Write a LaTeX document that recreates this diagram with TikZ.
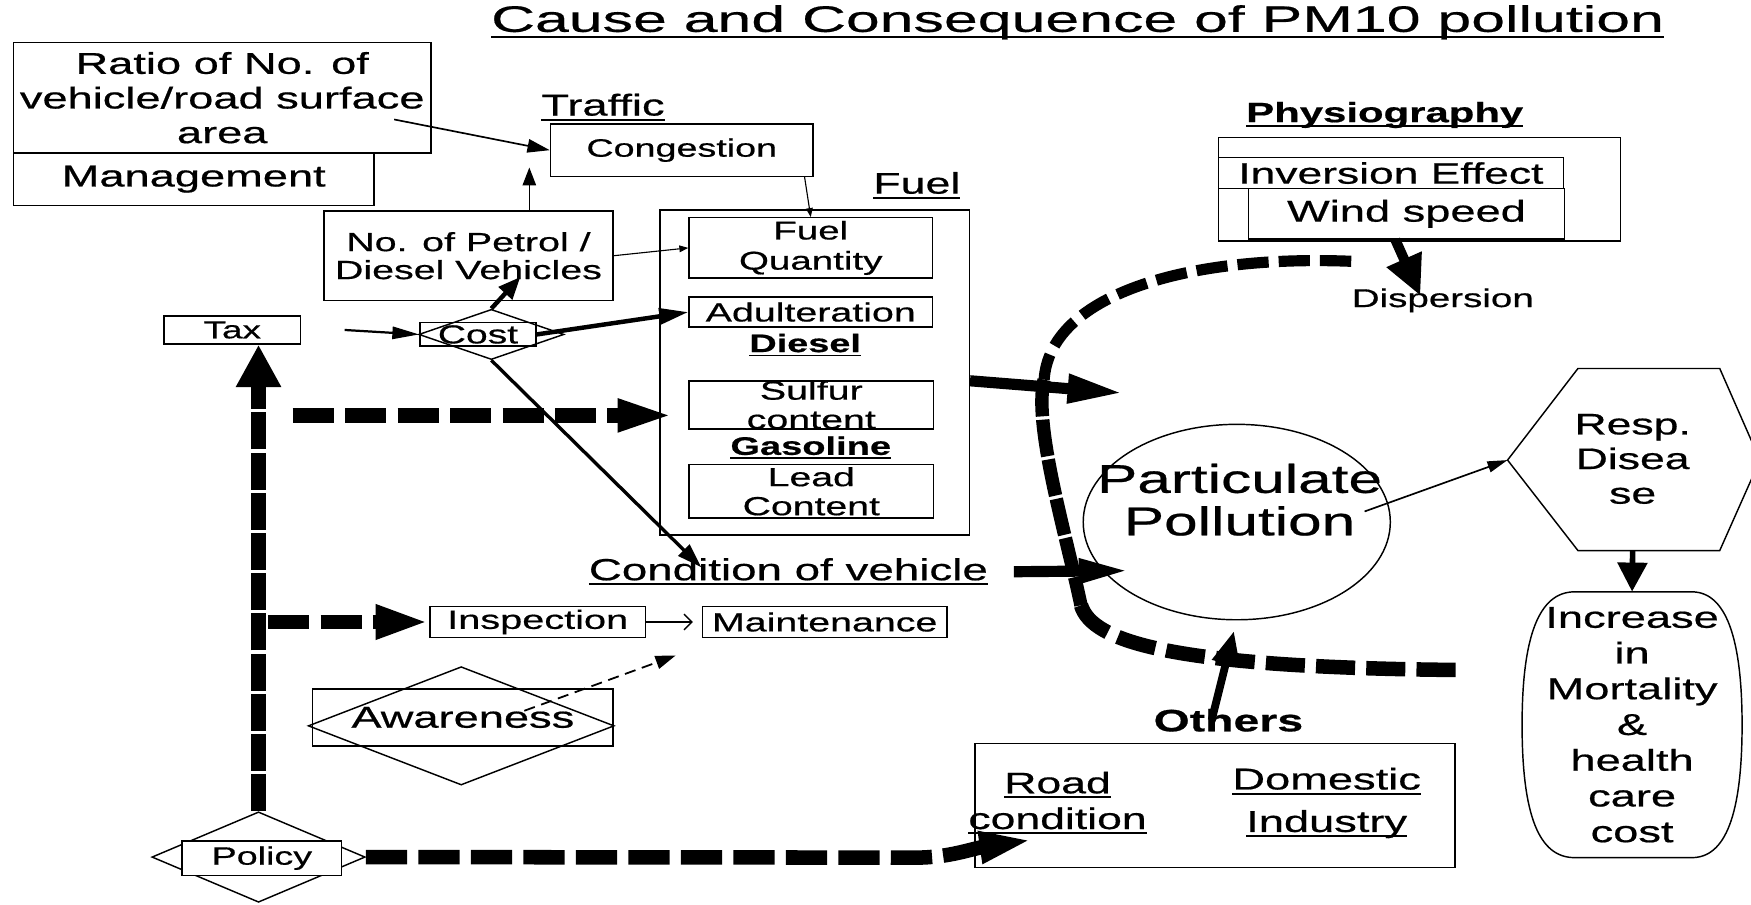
\documentclass[tikz,border=0pt]{standalone}
\usepackage{fontspec}
\setmainfont[FakeStretch=1.5,FakeBold=0.6]{Liberation Sans}
\newfontfamily\titlefont[FakeStretch=1.65,FakeBold=0.5]{Liberation Sans}
\usetikzlibrary{arrows.meta,shapes.geometric}
\newcommand\fs[2]{\fontsize{#1}{#2}\selectfont}
\newcommand\undl[1]{\leavevmode\setbox0\hbox{#1}\rlap{\copy0}\rule[-0.17em]{\wd0}{0.065em}}

\begin{document}
\begin{tikzpicture}[x=1pt,y=1pt,inner sep=0pt]
    \tikzset{box/.style={draw,line width=1.3pt,align=center,inner sep=0pt}}
    \tikzset{lbl/.style={align=center,inner sep=0pt}}
    \tikzset{dia/.style={draw,diamond,line width=1.3pt,inner sep=0pt}}
    \tikzset{bigdash/.style={line width=13pt,dash pattern=on 37pt off 10pt}}
    \tikzset{bar/.style={line width=13pt,dash pattern=on 33pt off 3pt}}

    \useasboundingbox (0,0) rectangle (1568,810);

    \node [lbl,font=\titlefont\fs{33}{38}] (title) at (965,790) {\undl{Cause and Consequence of PM10 pollution}};

    \node [box,minimum width=374pt,minimum height=99pt,font=\fs{27}{31}] (ratio) at (199,722.5) {Ratio of No. of\\vehicle/road surface\\area};
    \node [box,minimum width=323pt,minimum height=47pt,font=\fs{27}{31}] (mgmt) at (173.5,649.5) {Management};
    \node [lbl,font=\fs{27}{31}] (traffic) at (540,714) {\undl{Traffic}};
    \node [box,minimum width=235pt,minimum height=47pt,font=\fs{22.5}{25}] (cong) at (610.5,675.5) {Congestion};
    \node [box,minimum width=259pt,minimum height=80pt,font=\fs{23.5}{25}] (petrol) at (419.5,581) {No. of Petrol /\\Diesel Vehicles};

    \node [lbl,font=\fs{26.7}{30}] (fuel) at (821,644) {\undl{Fuel}};
    \node [box,minimum width=277pt,minimum height=291pt] (fuelbox) at (729.5,476.5) {};
    \node [box,minimum width=218pt,minimum height=54pt,font=\fs{23}{27}] (fqty) at (726,588) {Fuel\\Quantity};
    \node [box,minimum width=218pt,minimum height=27pt,font=\fs{23.5}{27}] (adult) at (726,530.5) {Adulteration};
    \node [lbl,font=\bfseries\fs{22.6}{26}] (diesel) at (721,501) {\undl{Diesel}};
    \node [box,minimum width=219pt,minimum height=43pt,inner ysep=-3pt,font=\fs{23.5}{26}] (sulfur) at (726.5,447.5) {Sulfur\\content};
    \node [lbl,font=\bfseries\fs{22.7}{26}] (gasoline) at (726,409) {\undl{Gasoline}};
    \node [box,minimum width=219pt,minimum height=48pt,inner ysep=-3pt,font=\fs{23.4}{26}] (lead) at (726.5,370) {Lead\\Content};

    \node [box,minimum width=122pt,minimum height=25pt,font=\fs{22}{24}] (tax) at (208,514.5) {Tax};
    \node [dia,minimum width=130pt,minimum height=45pt] (costd) at (440,510.5) {};
    \node [box,minimum width=104pt,minimum height=21pt,font=\fs{23.3}{26}] (cost) at (428,510.5) {Cost};

    \node [box,minimum width=193pt,minimum height=28pt,font=\fs{23.7}{27}] (insp) at (481.5,253) {Inspection};
    \node [box,minimum width=219pt,minimum height=28pt,font=\fs{23.5}{27}] (maint) at (738.5,253) {Maintenance};
    \node [lbl,font=\fs{27.3}{31}] (cond) at (706,298) {\undl{Condition of vehicle}};

    \node [dia,minimum width=274pt,minimum height=106pt] (awared) at (413,160) {};
    \node [box,minimum width=269pt,minimum height=51pt,font=\fs{27}{31}] (aware) at (414.5,167.5) {Awareness};

    \node [dia,minimum width=191pt,minimum height=81pt] (policyd) at (231.5,42.5) {};
    \node [box,fill=white,minimum width=143pt,minimum height=31pt,font=\fs{22.5}{26}] (policy) at (234.5,41.5) {Policy};

    \node [draw,ellipse,line width=1.3pt,minimum width=275pt,minimum height=175pt,
        label={[lbl,font=\fs{36}{38},xshift=2.5pt,yshift=20pt]center:Particulate\\Pollution}] (partic) at (1107.5,342.5) {};

    \draw [line width=1.3pt] (1413,480) -- (1540,480) -- (1576,398) -- (1540,317) -- (1413,317) -- (1350,398) -- cycle;
    \coordinate (hexw) at (1350,398);
    \coordinate (hexs) at (1462,317);
    \node [lbl,font=\fs{26.6}{31}] (resp) at (1462,399) {Resp.\\Disea\\se};

    \node [lbl,minimum width=197pt,minimum height=238pt,font=\fs{27}{32}] (incr) at (1461.5,161) {Increase\\in\\Mortality\\\&\\health\\care\\cost};
    \draw [line width=1.3pt] (1410,280) -- (1515,280) .. controls (1545,280) and (1560,240) .. (1560,161)
        .. controls (1560,80) and (1545,42) .. (1515,42) -- (1410,42)
        .. controls (1378,42) and (1363,80) .. (1363,161) .. controls (1363,240) and (1378,280) .. (1410,280);

    \node [lbl,font=\bfseries\fs{27.7}{31}] (others) at (1100,165) {Others};
    \node [box,minimum width=430pt,minimum height=111pt] (otherbox) at (1088,88.5) {};
    \node [lbl,font=\fs{26.6}{32}] (road) at (947,91) {\undl{Road}\\\undl{condition}};
    \node [lbl,font=\fs{27}{38}] (domestic) at (1188,91) {\undl{Domestic}\\\undl{Industry}};

    \node [lbl,font=\bfseries\fs{25}{30}] (physio) at (1240,707) {\undl{Physiography}};
    \node [box,minimum width=360pt,minimum height=93pt] (physbox) at (1271,640.5) {};
    \node [box,minimum width=309pt,minimum height=28pt,font=\fs{26.5}{30}] (inver) at (1245.5,655) {Inversion Effect};
    \node [box,minimum width=283pt,minimum height=45pt,font=\fs{27}{30}] (wind) at (1259.5,618.5) {Wind speed};
    \node [lbl,font=\fs{23}{26}] (disp) at (1292,541) {Dispersion};

    \coordinate (ratioarr) at (353,703);
    \coordinate (trafup) at (474,660);
    \coordinate (costup) at (466,562);
    \coordinate (condtip) at (628,302);
    \coordinate (sulfstart) at (262,438);
    \coordinate (sulftip) at (605,438);
    \coordinate (inspstart) at (240,253);
    \coordinate (roadtip) at (925,58);
    \coordinate (particin) at (1006,458);
    \coordinate (condin) at (1013,299);
    \coordinate (particout) at (1222,352);
    \coordinate (othtip) at (1105,245);
    \coordinate (disptip) at (1272,545);
    \coordinate (awarestart) at (469.5,173.5);
    \coordinate (awaretip) at (605,223);

    \draw [-{Triangle[length=20pt,width=12pt]},line width=1.5pt] (ratioarr) -- (cong.west);
    \draw [-{Triangle[length=16pt,width=12pt]},line width=1.3pt] ([xshift=54.5pt]petrol.north) -- (trafup);
    \draw [-{Triangle[length=8pt,width=6pt]},line width=1pt] (petrol.east) -- (fqty.west);
    \draw [-{Triangle[length=8pt,width=6pt]},line width=1pt] ([xshift=110pt]cong.south) -- (fqty.north);
    \draw [-{Triangle[length=24pt,width=11pt]},line width=2pt] ([xshift=39pt]tax.east) -- (cost.west);
    \draw [-{Triangle[length=20pt,width=16pt]},line width=4pt] (costd.north) -- (costup);
    \draw [-{Triangle[length=26pt,width=14pt]},line width=4pt] (cost.east) -- (adult.west);
    \draw [-{Triangle[length=22pt,width=14pt]},line width=3pt] (costd.south) -- (condtip);
    \draw [-{Straight Barb[length=7pt,width=14pt]},line width=1.2pt] (insp.east) -- ([xshift=-8pt]maint.west);
    \draw [-{Triangle[length=18pt,width=12pt]},line width=1.6pt,dash pattern=on 10pt off 6pt] (awarestart) -- (awaretip);

    \draw [bar,-{Triangle[length=38pt,width=38pt]}] (policyd.north) -- (policyd.north |- tax.south);
    \draw [bigdash,-{Triangle[length=52pt,width=26pt]}] (sulfstart) -- (sulftip);
    \draw [bigdash,-{Triangle[length=48pt,width=28pt]}] (inspstart) -- (insp.west);
    \draw [bigdash,-{Triangle[length=48pt,width=26pt]}] (policyd.east) -- (820,42) .. controls (850,42) and (870,50) .. (roadtip);

    \draw [line width=10pt,dash pattern=on 28pt off 9pt] (1210,576) .. controls (1060,582) and (940,545) .. (935,470);
    \draw [line width=12pt,dash pattern=on 33pt off 3pt] (935,470) .. controls (925,430) and (955,330) .. (968,268);
    \draw [line width=13pt,dash pattern=on 35pt off 10pt] (968,268) .. controls (978,235) and (1050,212) .. (1310,210);

    \draw [-{Triangle[length=50pt,width=24pt]},line width=10pt] ([yshift=-7.5pt]fuelbox.east) -- (particin);
    \draw [-{Triangle[length=47pt,width=20pt]},line width=10pt] ([xshift=23pt]cond.east) -- (condin);
    \draw [-{Triangle[length=18pt,width=10pt]},line width=1.5pt] (particout) -- (hexw);
    \draw [-{Triangle[length=26pt,width=26pt]},line width=5pt] (hexs) -- (incr.north);
    \draw [-{Triangle[length=30pt,width=24pt]},line width=7pt] ([xshift=-15pt]others.center) -- (othtip);
    \draw [-{Triangle[length=36pt,width=32pt]},line width=9pt] ([xshift=-10pt]wind.south) -- (disptip);
\end{tikzpicture}
\end{document}
